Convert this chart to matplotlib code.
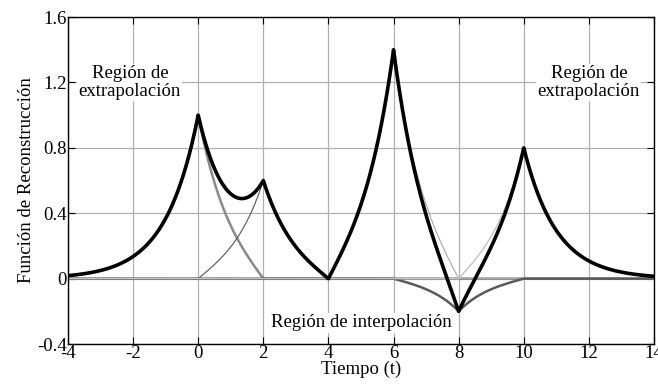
import matplotlib
matplotlib.use("Agg")
import matplotlib.pyplot as plt
import numpy as np

# sample instants and sample values
t_samples = [0, 2, 4, 6, 8, 10]
y_samples = [1.0, 0.6, 0.0, 1.4, -0.2, 0.8]

# per-sample component styles (colour, width)
comp_colors = ["#8a8a8a", "#555555", "#9a9a9a", "#a8a8a8", "#5a5a5a", "#c4c4c4"]
comp_widths = [1.8, 0.8, 1.0, 0.8, 1.8, 1.0]

x_ticks = [-4, -2, 0, 2, 4, 6, 8, 10, 12, 14]
y_ticks = [-0.4, 0, 0.4, 0.8, 1.2, 1.6]
y_ticklabels = ["-0.4", "0", "0.4", "0.8", "1.2", "1.6"]

plt.rcParams["font.family"] = ["Liberation Serif", "DejaVu Serif"]
plt.rcParams["axes.unicode_minus"] = False
plt.rcParams["font.size"] = 13.5


def basis(t, k, ts):
    """Cardinal exponential-spline function for sample k."""
    h = ts[1] - ts[0]
    d = t - ts[k]
    phi = np.where(np.abs(d) < h, np.sinh(h - np.abs(d)) / np.sinh(h), 0.0)
    if k == 0:
        phi = np.where(d < 0, np.exp(d), phi)
    if k == len(ts) - 1:
        phi = np.where(d > 0, np.exp(-d), phi)
    return phi


t = np.linspace(-4, 14, 3601)
fig = plt.figure(figsize=(6.58, 3.87), dpi=100)
ax = fig.add_axes([0.1033, 0.111, 0.8906, 0.845])

total = np.zeros_like(t)
for k, yk in enumerate(y_samples):
    comp = yk * basis(t, k, t_samples)
    total += comp
    ax.plot(t, comp, color=comp_colors[k], lw=comp_widths[k], zorder=2)
ax.plot(t, total, color="black", lw=2.6, zorder=3)

box = dict(facecolor="white", edgecolor="none", pad=1)
ax.text(-2.1, 1.2, "Región de\nextrapolación", ha="center", va="center",
        fontsize=13.5, bbox=box, zorder=4, linespacing=1.05)
ax.text(12.0, 1.2, "Región de\nextrapolación", ha="center", va="center",
        fontsize=13.5, bbox=box, zorder=4, linespacing=1.05)
ax.text(5.0, -0.27, "Región de interpolación", ha="center", va="center",
        fontsize=13.5, bbox=box, zorder=4)

ax.set_xlim(-4, 14)
ax.set_ylim(-0.4, 1.6)
ax.set_xticks(x_ticks)
ax.set_yticks(y_ticks)
ax.set_yticklabels(y_ticklabels)
ax.grid(True, color="#b0b0b0", lw=0.9)
ax.set_axisbelow(True)
ax.tick_params(direction="in", top=True, right=True, length=5, width=0.8,
               labelsize=13.5, pad=1)
for s in ax.spines.values():
    s.set_linewidth(1.0)
ax.set_xlabel("Tiempo (t)", fontsize=13.5, labelpad=-1)
ax.set_ylabel("Función de Reconstrucción", fontsize=13.5, labelpad=1)

fig.savefig("out.png", dpi=100)
